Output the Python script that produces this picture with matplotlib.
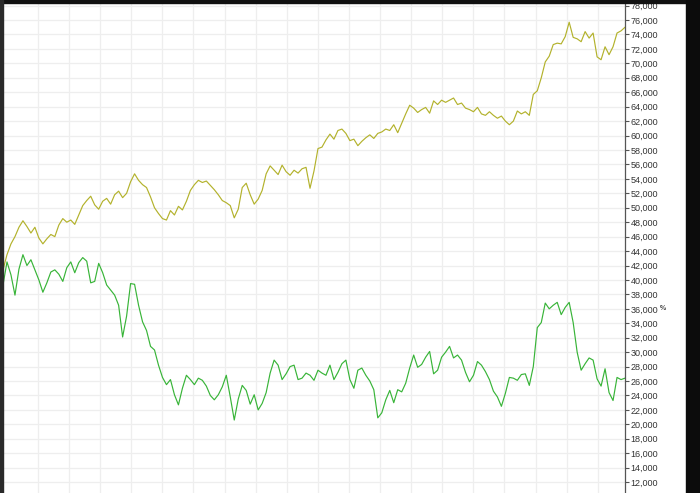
import numpy as np
import matplotlib
matplotlib.use("Agg")
import matplotlib.pyplot as plt
from matplotlib.patches import Rectangle
from matplotlib.ticker import FuncFormatter

# ---- data ----
olive_values = [
    41400, 43500, 45000, 46000, 47300, 48200, 47400, 46500, 47300, 45800,
    45000, 45700, 46300, 46000, 47600, 48500, 48000, 48300, 47700, 49000,
    50300, 51000, 51600, 50400, 49800, 50900, 51300, 50500, 51800, 52300,
    51400, 52000, 53600, 54700, 53800, 53200, 52800, 51500, 50000, 49200,
    48500, 48300, 49600, 49000, 50200, 49700, 50900, 52400, 53200, 53800,
    53500, 53700, 53100, 52500, 51800, 51000, 50700, 50300, 48600, 49800,
    52800, 53400, 51800, 50500, 51200, 52400, 54700, 55800, 55200, 54600,
    55900, 55000, 54500, 55200, 54800, 55400, 55600, 52700, 55100, 58200,
    58400, 59400, 60200, 59500, 60700, 60900, 60300, 59300, 59500, 58600,
    59200, 59700, 60100, 59600, 60300, 60500, 60900, 60700, 61500, 60400,
    61700, 63000, 64200, 63800, 63200, 63600, 63900, 63100, 64800, 64300,
    64900, 64600, 64900, 65200, 64300, 64500, 63800, 63600, 63300, 63900,
    63000, 62800, 63300, 62800, 62400, 62700, 62000, 61500, 62000, 63400,
    63000, 63300, 62800, 65700, 66200, 68000, 70200, 71000, 72600, 72800,
    72700, 73700, 75700, 73600, 73400, 73000, 74400, 73500, 74200, 70900,
    70500, 72300, 71200, 72300, 74200, 74500, 75000,
]

green_values = [
    39300, 42500, 40700, 37900, 41500, 43500, 42000, 42800, 41400, 40000,
    38300, 39600, 41100, 41400, 40800, 39800, 41700, 42500, 41000, 42400,
    43100, 42600, 39600, 39800, 42300, 41000, 39300, 38600, 37900, 36500,
    32100, 35000, 39500, 39400, 36500, 34200, 33000, 30800, 30300, 28200,
    26500, 25500, 26200, 24100, 22700, 25000, 26800, 26200, 25500, 26400,
    26100, 25300, 24000, 23400, 24100, 25200, 26800, 23800, 20600, 23500,
    25400, 24700, 22800, 24100, 22000, 22900, 24400, 27100, 28900, 28200,
    26200, 27000, 28000, 28200, 26200, 26400, 27100, 26800, 26100, 27500,
    27100, 26800, 28200, 26200, 27200, 28400, 28900, 26200, 25000, 27500,
    27800, 26800, 26000, 24800, 20900, 21600, 23400, 24700, 23000, 24800,
    24500, 25700, 27800, 29600, 27900, 28300, 29300, 30100, 27000, 27500,
    29300, 30000, 30800, 29200, 29600, 28900, 27200, 25900, 26800, 28700,
    28200, 27300, 26200, 24600, 23800, 22500, 24300, 26500, 26400, 26100,
    26900, 27000, 25400, 28000, 33400, 34100, 36800, 36000, 36500, 36900,
    35200, 36200, 36900, 34100, 30000, 27500, 28400, 29200, 28900, 26300,
    25300, 27700, 24400, 23300, 26500, 26200, 26400,
]

y_ticks = list(range(12000, 78001, 2000))
marker_text = "%"
marker_value = 36000

# ---- figure ----
W, H = 700, 493
fig = plt.figure(figsize=(W / 100, H / 100), dpi=100)
fig.patch.set_facecolor("white")

ax_l, ax_r, ax_t = 3, 625, 3
px_per_unit = 14.44 / 2000
ytop_val = 78000 + (5.6 - ax_t) / px_per_unit
ybot_val = 78000 - (H - 5.6) / px_per_unit
ax = fig.add_axes([ax_l / W, 0, (ax_r - ax_l) / W, 1 - ax_t / H])
ax.set_facecolor("white")

n = len(olive_values)
ax.plot(np.arange(n), olive_values, color="#b3b22c", lw=0.85)
ax.plot(np.arange(len(green_values)), green_values, color="#38b438", lw=0.85)

ax.set_xlim(0, n - 1)
ax.set_ylim(ybot_val, ytop_val)

units_per_px = (n - 1) / (ax_r - ax_l)
first = (38 - ax_l) * units_per_px
step = 31.1 * units_per_px
ax.set_xticks(np.arange(first, n - 1, step))
ax.tick_params(axis="x", length=0, labelbottom=False)

ax.set_yticks(y_ticks)
ax.yaxis.tick_right()
ax.yaxis.set_major_formatter(FuncFormatter(lambda v, p: f"{int(v):,}"))
ax.tick_params(axis="y", direction="out", length=3, width=0.8, color="#555555",
               labelsize=6.5, labelcolor="#333333", pad=1)
for lab in ax.get_yticklabels():
    lab.set_fontfamily("Liberation Sans")

ax.grid(True, color="#eeeeee", lw=0.9)
ax.set_axisbelow(True)
for s in ["top", "left", "bottom"]:
    ax.spines[s].set_visible(False)
ax.spines["right"].set_color("#555555")
ax.spines["right"].set_linewidth(0.9)

ax.text(1 + (663 - ax_r) / (ax_r - ax_l), marker_value, marker_text,
        transform=ax.get_yaxis_transform(), fontsize=5, color="#444444",
        ha="center", va="center", family="Liberation Sans", fontweight="bold")

fig.patches.append(Rectangle((0, 1 - 3 / H), 1, 3 / H, transform=fig.transFigure,
                             color="#111111", zorder=10))
fig.patches.append(Rectangle((0, 0), 3 / W, 1, transform=fig.transFigure,
                             color="#2a2a2a", zorder=10))
fig.patches.append(Rectangle((686 / W, 0), 14 / W, 1, transform=fig.transFigure,
                             color="#0c0c0c", zorder=10))

fig.savefig("out.png", dpi=100, facecolor="white")
